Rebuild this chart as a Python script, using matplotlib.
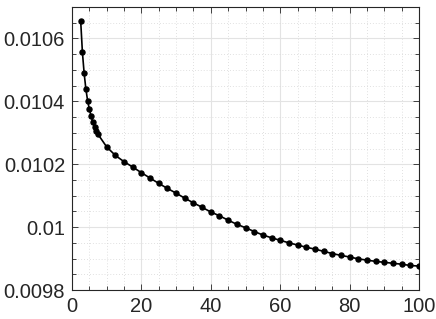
import matplotlib
matplotlib.use("Agg")
import matplotlib.pyplot as plt
from matplotlib.ticker import MultipleLocator

x_vals = [2.5, 3, 3.5, 4, 4.5, 5, 5.5, 6, 6.5, 7, 7.5,
          10, 12.5, 15, 17.5, 20, 22.5, 25, 27.5, 30, 32.5, 35, 37.5, 40,
          42.5, 45, 47.5, 50, 52.5, 55, 57.5, 60, 62.5, 65, 67.5, 70, 72.5,
          75, 77.5, 80, 82.5, 85, 87.5, 90, 92.5, 95, 97.5, 100]
y_vals = [0.010656, 0.010556, 0.010489, 0.010439, 0.010402, 0.010375,
          0.010353, 0.010334, 0.010318, 0.010306, 0.010295,
          0.010255, 0.010228, 0.010208, 0.010191, 0.010173, 0.010156,
          0.010139, 0.010123, 0.010108, 0.010092, 0.010077, 0.010063,
          0.010048, 0.010036, 0.010022, 0.010009, 0.009998, 0.009986,
          0.009975, 0.009966, 0.009958, 0.009950, 0.009943, 0.009936,
          0.009930, 0.009923, 0.009916, 0.009910, 0.009905, 0.009899,
          0.009895, 0.009891, 0.009888, 0.009885, 0.009882, 0.009878,
          0.009876]
x_ticks = [0, 20, 40, 60, 80, 100]
y_ticks = [0.0098, 0.0100, 0.0102, 0.0104, 0.0106]
y_tick_labels = ["0.0098", "0.01", "0.0102", "0.0104", "0.0106"]

plt.rcParams['font.family'] = ['Liberation Sans', 'DejaVu Sans']

fig = plt.figure(figsize=(4.36, 3.19), dpi=100)
ax = fig.add_axes([72/436, 29/319, 347/436, 283/319])

ax.plot(x_vals, y_vals, color='black', linewidth=1.2, marker='o',
        markersize=3.6, markerfacecolor='black', markeredgecolor='black', zorder=3)

ax.set_xlim(0, 100)
ax.set_ylim(0.0098, 0.0107)
ax.set_xticks(x_ticks)
ax.set_yticks(y_ticks)
ax.set_yticklabels(y_tick_labels)
ax.xaxis.set_minor_locator(MultipleLocator(5))
ax.yaxis.set_minor_locator(MultipleLocator(0.00005))

ax.grid(which='major', color='#e3e3e3', linestyle='-', linewidth=0.8, zorder=0)
ax.grid(which='minor', color='#d6d6d6', linestyle=(0, (1, 2.5)), linewidth=0.6, zorder=0)
ax.set_axisbelow(True)

for s in ax.spines.values():
    s.set_color('#262626')
    s.set_linewidth(0.8)

ax.tick_params(which='both', direction='in', top=True, right=True,
               color='#262626', width=0.6, labelsize=14.5, labelcolor='#262626')
ax.tick_params(which='major', length=4)
ax.tick_params(which='minor', length=3)
ax.tick_params(axis='x', which='major', pad=5)
ax.tick_params(axis='y', which='major', pad=5)

fig.savefig('out.png', dpi=100)
